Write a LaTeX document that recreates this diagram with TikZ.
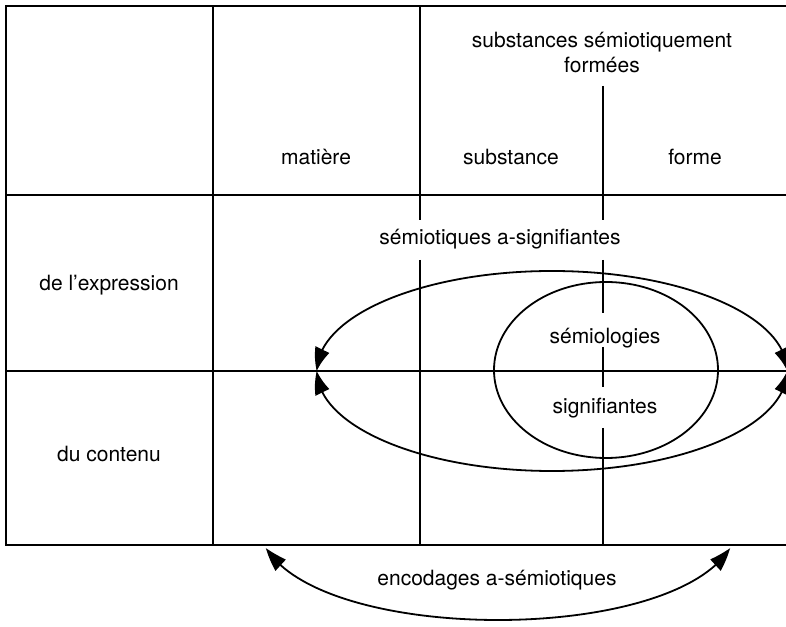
\documentclass[tikz,border=0pt]{standalone}
\usepackage{fontspec}
\setmainfont{TeX Gyre Heros}
\usetikzlibrary{arrows.meta,bending}
\tikzset{
  trait/.style={line width=0.9pt},
  fleche/.style={line width=0.9pt,{Triangle[length=11pt,width=7.5pt,bend]}-{Triangle[length=11pt,width=7.5pt,bend]}},
  etiquette/.style={inner sep=1pt,font=\fontsize{10.5}{12.5}\selectfont}
}
\begin{document}
\begin{tikzpicture}[x=0.5pt,y=0.5pt]
\fill [white] (0,0) rectangle (786,626);
\useasboundingbox (0,0) rectangle (786,626);
\draw [trait] (786,620) --(6,620) --(6,81) --(786,81);
\draw [trait] (6,431) --(786,431);
\draw [trait] (6,255) --(786,255);
\draw [trait] (213,620) --(213,81);
\draw [trait] (420,620) --(420,406);
\draw [trait] (420,366) --(420,81);
\draw [trait] (603,540) --(603,406);
\draw [trait] (603,366) --(603,313);
\draw [trait] (603,279) --(603,239);
\draw [trait] (603,198) --(603,81);
\node [etiquette] (subsem) at (602,584) {substances sémiotiquement};
\node [etiquette] (formees) at (602,561) {formées};
\node [etiquette] (matiere) at (316,469) {matière};
\node [etiquette] (substance) at (511,469) {substance};
\node [etiquette] (forme) at (695,469) {forme};
\node [etiquette] (expression) at (109,341) {de l'expression};
\node [etiquette] (contenu) at (109,172) {du contenu};
\node [etiquette] (asignif) at (500,387) {sémiotiques a-signifiantes};
\node [etiquette] (semio) at (605,288) {sémiologies};
\node [etiquette] (signif) at (605,218) {signifiantes};
\node [etiquette] (encodages) at (497,46) {encodages a-sémiotiques};
\draw [trait] (606,256) ellipse [x radius=112,y radius=88];
\coordinate (gauche) at (317,255);
\coordinate (encG) at (266,78);
\coordinate (encD) at (730,78);
\draw [fleche] (gauche) arc [start angle=180,end angle=0,x radius=235,y radius=100];
\draw [fleche] (gauche) arc [start angle=180,end angle=360,x radius=235,y radius=100];
\draw [fleche] (encG) .. controls (325,-18) and (671,-18) .. (encD);
\end{tikzpicture}
\end{document}
